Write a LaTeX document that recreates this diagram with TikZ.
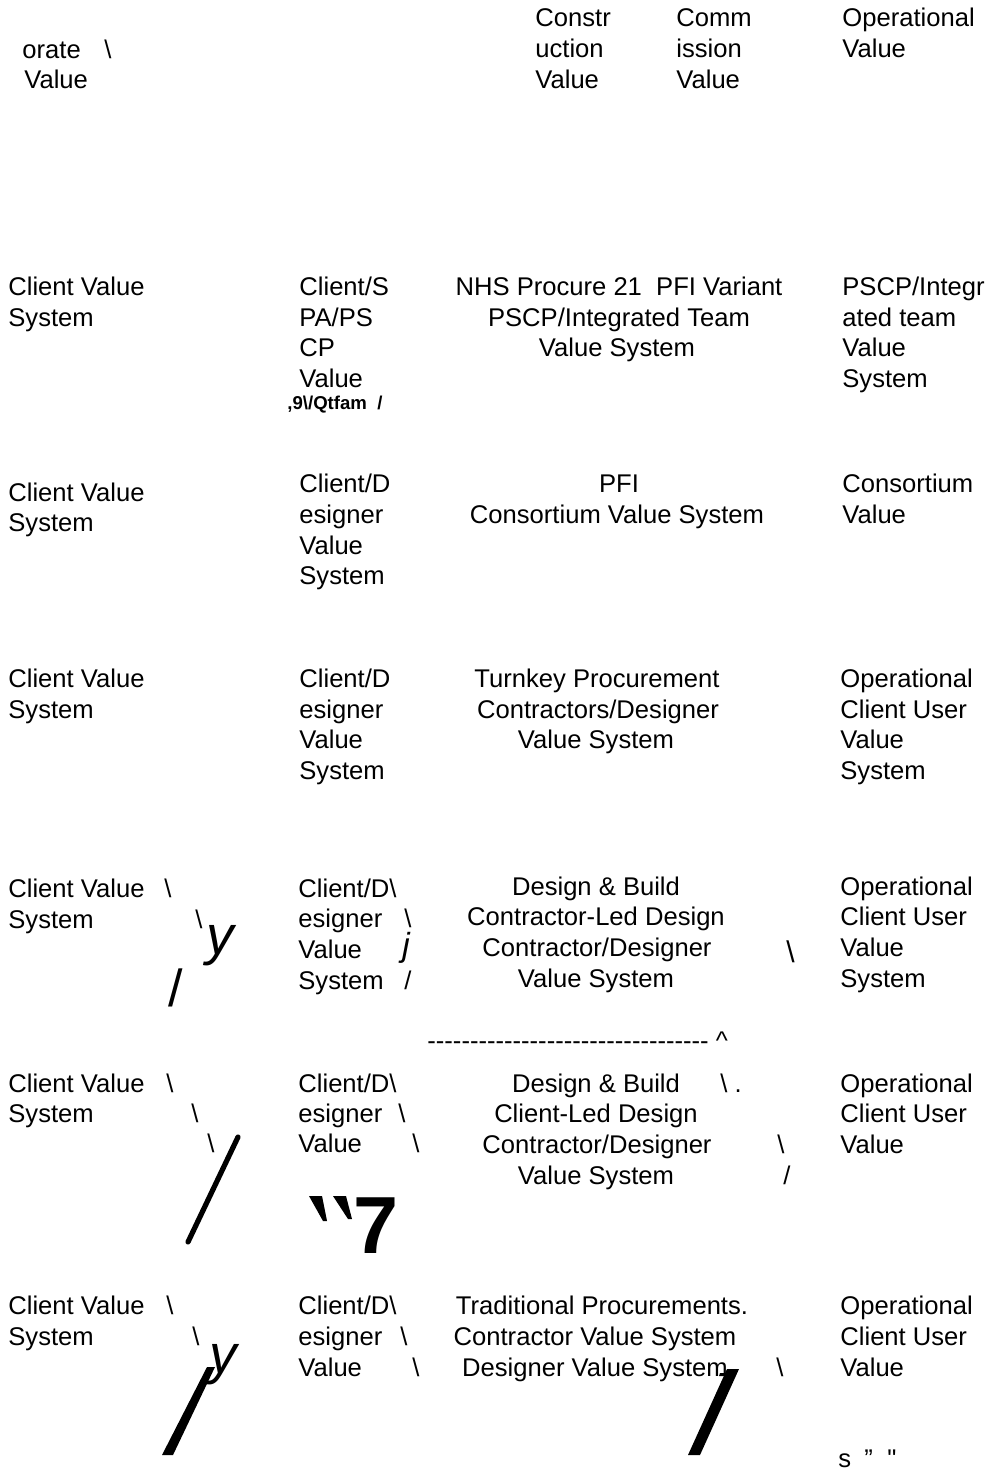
\documentclass[tikz,border=0pt]{standalone}
\usepackage{fontspec}
\newfontfamily\lib{Liberation Sans}
\begin{document}
\begin{tikzpicture}[x=0.5pt,y=-0.5pt,
  t/.style={font=\lib\fontsize{12.8}{15}\selectfont, inner sep=0pt, anchor=base west},
  tc/.style={t, anchor=base},
  big/.style={font=\lib\fontsize{#1}{#1}\selectfont, inner sep=0pt, anchor=base west},
  bigit/.style={font=\lib\itshape\fontsize{#1}{#1}\selectfont, inner sep=0pt, anchor=base west},
  smallbold/.style={font=\lib\bfseries\fontsize{9.3}{10}\selectfont, inner sep=0pt, anchor=base west},
  heavy/.style={fill=black, draw=none}]
\useasboundingbox (0,0) rectangle (989,1477);

% ---- top row ----
\node[t] (o1) at (22,59) {orate};
\node[t] (o1b) at (104,59) {\textbackslash};
\node[t] (o2) at (24,89) {Value};
\node[t] (c1) at (535,27) {Constr};
\node[t] (c2) at (535,58) {uction};
\node[t] (c3) at (535,89) {Value};
\node[t] (m1) at (676,27) {Comm};
\node[t] (m2) at (676,58) {ission};
\node[t] (m3) at (676,89) {Value};
\node[t] (p1) at (842,27) {Operational};
\node[t] (p2) at (842,58) {Value};

% ---- row 1 ----
\node[t] (a1) at (8,295) {Client Value};
\node[t] (a2) at (8,326) {System};
\node[t] (b1) at (299,295) {Client/S};
\node[t] (b2) at (299,326) {PA/PS};
\node[t] (b3) at (299,356) {CP};
\node[t] (b4) at (299,387) {Value};
\node[smallbold] (b5) at (287,409) {,9\textbackslash/Qtfam\ \ /};
\node[tc] (n1) at (619,295) {NHS Procure 21\ \ PFI Variant};
\node[tc] (n2) at (619,326) {PSCP/Integrated Team};
\node[tc] (n3) at (617,356) {Value System};
\node[t] (q1) at (842,295) {PSCP/Integr};
\node[t] (q2) at (842,326) {ated team};
\node[t] (q3) at (842,356) {Value};
\node[t] (q4) at (842,387) {System};

% ---- row 2 ----
\node[t] (d1) at (8,501) {Client Value};
\node[t] (d2) at (8,531) {System};
\node[t] (e1) at (299,492) {Client/D};
\node[t] (e2) at (299,523) {esigner};
\node[t] (e3) at (299,554) {Value};
\node[t] (e4) at (299,584) {System};
\node[tc] (f1) at (619,492) {PFI};
\node[tc] (f2) at (617,523) {Consortium Value System};
\node[t] (g1) at (842,492) {Consortium};
\node[t] (g2) at (842,523) {Value};

% ---- row 3 ----
\node[t] (h1) at (8,687) {Client Value};
\node[t] (h2) at (8,718) {System};
\node[t] (i1) at (299,687) {Client/D};
\node[t] (i2) at (299,718) {esigner};
\node[t] (i3) at (299,748) {Value};
\node[t] (i4) at (299,779) {System};
\node[tc] (k1) at (597,687) {Turnkey Procurement};
\node[tc] (k2) at (598,718) {Contractors/Designer};
\node[tc] (k3) at (596,748) {Value System};
\node[t] (l1) at (840,687) {Operational};
\node[t] (l2) at (840,718) {Client User};
\node[t] (l3) at (840,748) {Value};
\node[t] (l4) at (840,779) {System};

% ---- row 4 ----
\node[t] (r1) at (8,897) {Client Value};
\node[t] (r1b) at (164,897) {\textbackslash};
\node[t] (r2) at (8,928) {System};
\node[t] (r2b) at (195,928) {\textbackslash};
\node[bigit=27.5] (r2y) at (206,954) {y};
\node[big=26] (r3s) at (168,1006) {/};
\node[t] (s1) at (298,897) {Client/D\textbackslash};
\node[t] (s2) at (298,927) {esigner};
\node[t] (s2b) at (404,927) {\textbackslash};
\node[t] (s3) at (298,958) {Value};
\node[bigit=16.7] (s3j) at (402,956) {j};
\node[t] (s4) at (298,989) {System};
\node[t] (s4s) at (404,989) {/};
\node[tc] (u1) at (596,895) {Design \& Build};
\node[tc] (u2) at (596,925) {Contractor-Led Design};
\node[tc] (u3) at (597,956) {Contractor/Designer};
\node[tc] (u4) at (596,987) {Value System};
\node[big=15] (u3b) at (786,962) {\textbackslash};
\node[t] (v1) at (840,895) {Operational};
\node[t] (v2) at (840,925) {Client User};
\node[t] (v3) at (840,956) {Value};
\node[t] (v4) at (840,987) {System};
\node[t] (dash) at (427,1049) {---------------------------------\ \^{}};

% ---- row 5 ----
\node[t] (w1) at (8,1092) {Client Value};
\node[t] (w1b) at (166,1092) {\textbackslash};
\node[t] (w2) at (8,1122) {System};
\node[t] (w2b) at (191,1122) {\textbackslash};
\node[t] (w3b) at (207,1152) {\textbackslash};
\coordinate (wl1) at (238,1137);
\coordinate (wl2) at (188,1242);
\draw[line width=2.6pt, line cap=round] (wl1) -- (wl2);
\node[t] (x1) at (298,1092) {Client/D\textbackslash};
\node[t] (x2) at (298,1122) {esigner};
\node[t] (x2b) at (398,1122) {\textbackslash};
\node[t] (x3) at (298,1152) {Value};
\node[t] (x3b) at (412,1152) {\textbackslash};
\fill[heavy] (309,1196) -- (322,1196) -- (327,1221) -- (323,1221) -- cycle;
\fill[heavy] (333,1196) -- (346,1196) -- (352,1219) -- (348,1219) -- cycle;
\node[font=\lib\bfseries\fontsize{40.5}{40.5}\selectfont, inner sep=0pt, anchor=base west] (x7) at (353,1253) {7};
\node[tc] (y1) at (596,1092) {Design \& Build};
\node[t] (y1b) at (720,1092) {\textbackslash\ .};
\node[tc] (y2) at (596,1122) {Client-Led Design};
\node[tc] (y3) at (597,1153) {Contractor/Designer};
\node[t] (y3b) at (777,1153) {\textbackslash};
\node[tc] (y4) at (596,1184) {Value System};
\node[t] (y4s) at (783,1184) {/};
\node[t] (z1) at (840,1092) {Operational};
\node[t] (z2) at (840,1122) {Client User};
\node[t] (z3) at (840,1153) {Value};

% ---- row 6 ----
\node[t] (aa1) at (8,1314) {Client Value};
\node[t] (aa1b) at (166,1314) {\textbackslash};
\node[t] (aa2) at (8,1345) {System};
\node[t] (aa2b) at (192,1345) {\textbackslash};
\node[bigit=27.5] (aay) at (209,1373) {y};
\fill[heavy] (207,1367) -- (215,1367) -- (173,1455) -- (162,1455) -- cycle;
\node[t] (bb1) at (298,1314) {Client/D\textbackslash};
\node[t] (bb2) at (298,1345) {esigner};
\node[t] (bb2b) at (400,1345) {\textbackslash};
\node[t] (bb3) at (298,1376) {Value};
\node[t] (bb3b) at (412,1376) {\textbackslash};
\node[tc] (cc1) at (602,1314) {Traditional Procurements.};
\node[tc] (cc2) at (595,1345) {Contractor Value System};
\node[tc] (cc3) at (595,1376) {Designer Value System};
\fill[heavy] (720,1373) -- (730,1373) -- (729,1376) -- (719,1376) -- cycle;
\fill[heavy] (727,1369) -- (739,1369) -- (700,1455) -- (688,1455) -- cycle;
\node[t] (cc3b) at (776,1376) {\textbackslash};
\node[t] (dd1) at (840,1314) {Operational};
\node[t] (dd2) at (840,1345) {Client User};
\node[t] (dd3) at (840,1376) {Value};
\node[t] (ee1) at (838,1467) {s};
\node[t] (ee2) at (864,1467) {”};
\node[t] (ee3) at (887,1467) {"};
\end{tikzpicture}
\end{document}
